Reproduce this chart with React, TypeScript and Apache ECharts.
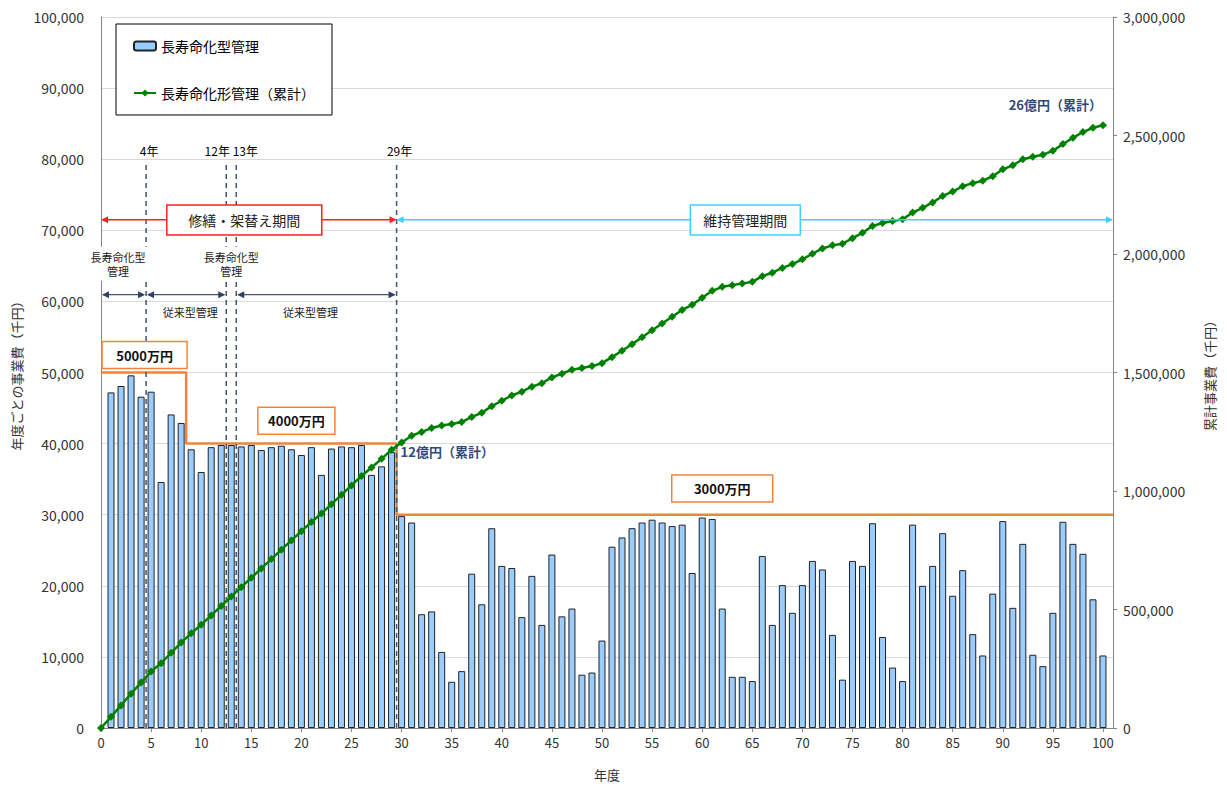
import React, { useEffect, useRef } from 'react';
import * as echarts from 'echarts';

// 年度ごとの事業費（千円）, years 1..100
const annualCost = [
  47200, 48100, 49600, 46600, 47300, 34600, 44100, 42900, 39200, 36000,
  39500, 39800, 39800, 39600, 39800, 39100, 39500, 39700, 39200, 38400,
  39500, 35600, 39300, 39600, 39500, 39800, 35600, 36800, 38800, 29800,
  28900, 16000, 16400, 10700, 6500, 8000, 21700, 17400, 28100, 22800,
  22500, 15600, 21400, 14500, 24400, 15700, 16800, 7500, 7800, 12300,
  25500, 26800, 28100, 28900, 29300, 28900, 28400, 28600, 21800, 29600,
  29400, 16800, 7200, 7200, 6600, 24200, 14500, 20100, 16200, 20100,
  23500, 22300, 13100, 6800, 23500, 22800, 28800, 12800, 8500, 6600,
  28600, 20000, 22800, 27400, 18600, 22200, 13200, 10200, 18900, 29100,
  16900, 25900, 10300, 8700, 16200, 29000, 25900, 24500, 18100, 10200,
];

// budget level step line (千円)
const budgetX = [0, 8.5, 8.5, 29.5, 29.5, 101];
const budgetY = [50000, 50000, 40000, 40000, 30000, 30000];
const budgetLabels = ['5000万円', '4000万円', '3000万円'];
const budgetLabelX = [4.35, 19.5, 62.0];
const budgetLabelY = [52450, 43200, 33700];

// period dividers
const dividerYears = [4.5, 12.5, 13.5, 29.5];
const dividerLabels = ['4年', '12年', '13年', '29年'];
const dividerLabelX = [4.8, 11.6, 14.4, 29.8];

// periods
const periodLabels = ['修繕・架替え期間', '維持管理期間'];
const periodFrom = [0, 29.5];
const periodTo = [29.5, 101];
const periodLabelX = [14.3, 64.3];

// management type segments
const segFrom = [0, 4.5, 13.5];
const segTo = [4.5, 12.5, 29.5];
const longLifeLabelX = [1.7, 13.0];
const conventionalLabelX = [8.9, 20.9];

const xTicks = { min: 0, max: 101, interval: 5 };
const leftTicks = { min: 0, max: 100000, interval: 10000 };
const rightTicks = { min: 0, max: 3000000, interval: 500000 };

const FONT = '"Noto Sans CJK JP", "Noto Sans", sans-serif';

export default function App() {
  const ref = useRef<HTMLDivElement>(null);
  useEffect(() => {
    if (!ref.current) return;
    const chart = echarts.init(ref.current, null, { renderer: 'svg' });

    const barData = annualCost.map((v, i) => [i + 1, v]);
    const cumData: number[][] = [[0, 0]];
    let s = 0;
    annualCost.forEach((v, i) => {
      s += v;
      cumData.push([i + 1, s]);
    });
    const stepData = budgetX.map((x, i) => [x, budgetY[i]]);

    const fmt = (v: number) => v.toLocaleString('en-US');

    chart.setOption({
      animation: false,
      textStyle: { fontFamily: FONT },
      grid: { left: 101, right: 114, top: 17, bottom: 57, containLabel: false },
      legend: {
        orient: 'vertical',
        left: 116,
        top: 24,
        data: ['長寿命化型管理', '長寿命化形管理（累計）'],
        backgroundColor: '#fff',
        borderColor: '#000',
        borderWidth: 1,
        borderRadius: 0,
        padding: [15, 17, 15, 17],
        itemGap: 33,
        itemWidth: 22,
        itemHeight: 9,
        textStyle: { fontSize: 14, color: '#000', fontFamily: FONT },
      },
      xAxis: {
        type: 'value',
        ...xTicks,
        name: '年度',
        nameLocation: 'middle',
        nameGap: 40,
        nameTextStyle: { fontSize: 13, color: '#333', fontFamily: FONT },
        axisLine: { show: true, lineStyle: { color: '#868686', width: 1 } },
        axisTick: { show: true, length: 4, lineStyle: { color: '#868686' } },
        axisLabel: { showMaxLabel: false, fontSize: 13, color: '#333', margin: 8 },
        splitLine: { show: false },
      },
      yAxis: [
        {
          type: 'value',
          ...leftTicks,
          position: 'left',
          name: '年度ごとの事業費（千円）',
          nameLocation: 'middle',
          nameGap: 78,
          nameTextStyle: { fontSize: 13, color: '#333', fontFamily: FONT },
          axisLine: { show: true, lineStyle: { color: '#868686' } },
          axisTick: { show: false },
          axisLabel: { formatter: fmt, fontSize: 14, color: '#333', margin: 17 },
          splitLine: { show: true, lineStyle: { color: '#d9d9d9', width: 1 } },
        },
        {
          type: 'value',
          ...rightTicks,
          position: 'right',
          name: '累計事業費（千円）',
          nameLocation: 'middle',
          nameGap: 90,
          nameTextStyle: { fontSize: 13, color: '#333', fontFamily: FONT },
          axisLine: { show: true, lineStyle: { color: '#868686' } },
          axisTick: { show: true, length: 4, lineStyle: { color: '#868686' } },
          axisLabel: { formatter: fmt, fontSize: 14, color: '#333', margin: 10 },
          splitLine: { show: false },
        },
      ],
      series: [
        {
          name: '長寿命化型管理',
          type: 'bar',
          data: barData,
          barWidth: 7,
          z: 2,
          itemStyle: { color: '#99ccff', borderColor: '#222', borderWidth: 1 },
        },
        {
          name: '長寿命化形管理（累計）',
          type: 'line',
          yAxisIndex: 1,
          data: cumData,
          z: 6,
          symbol: 'diamond',
          symbolSize: 8,
          lineStyle: { color: '#008000', width: 2.5 },
          itemStyle: { color: '#008000' },
        },
        {
          name: 'budget',
          type: 'line',
          data: stepData,
          z: 3,
          symbol: 'none',
          lineStyle: { color: '#f0843a', width: 2.5 },
          itemStyle: { color: '#f0843a' },
        },
      ],
    });

    const P = (x: number, y: number, yi = 0) =>
      chart.convertToPixel({ xAxisIndex: 0, yAxisIndex: yi } as any, [x, y]) as number[];

    const els: any[] = [];
    const line = (x1: number, y1: number, x2: number, y2: number, stroke: string, lw: number, dash?: number[], z = 5) =>
      els.push({ type: 'line', z, shape: { x1, y1, x2, y2 }, style: { stroke, lineWidth: lw, lineDash: dash } });
    const tri = (x: number, y: number, dir: number, fill: string, z = 5) =>
      els.push({ type: 'polygon', z, shape: { points: [[x, y], [x - dir * 7, y - 3.5], [x - dir * 7, y + 3.5]] }, style: { fill } });
    const text = (x: number, y: number, t: string, font: string, fill: string, align = 'center', z = 12, lh?: number) =>
      els.push({ type: 'text', z, x, y, style: { text: t, font, fill, align, verticalAlign: 'middle', lineHeight: lh } });
    const box = (cx: number, cy: number, w: number, h: number, stroke: string, z = 10, lw = 1.5) =>
      els.push({ type: 'rect', z, shape: { x: cx - w / 2, y: cy - h / 2, width: w, height: h }, style: { fill: '#fff', stroke, lineWidth: lw } });

    // dividers
    dividerYears.forEach((d, i) => {
      const a = P(d, 0);
      const b = P(d, 79500);
      line(a[0], a[1], b[0], b[1], '#44546a', 1.5, [5, 4], 5);
      const l = P(dividerLabelX[i], 81200);
      text(l[0], l[1], dividerLabels[i], `12px ${FONT}`, '#000');
    });

    // periods
    const periodColors = ['#ff2020', '#40d0ff'];
    const periodBoxW = [155, 110];
    periodLabels.forEach((lab, i) => {
      const a = P(periodFrom[i], 71500);
      const b = P(periodTo[i], 71500);
      line(a[0] + 2, a[1], b[0] - 2, b[1], periodColors[i], 1.5, undefined, 7);
      tri(a[0], a[1], -1, periodColors[i], 7);
      tri(b[0], b[1], 1, periodColors[i], 7);
      const c = P(periodLabelX[i], 71450);
      box(c[0], c[1], periodBoxW[i], 30, periodColors[i]);
      text(c[0], c[1], lab, `14px ${FONT}`, '#222');
    });

    // management type segments
    segFrom.forEach((f, i) => {
      const a = P(f, 60950);
      const b = P(segTo[i], 60950);
      line(a[0] + 2, a[1], b[0] - 2, b[1], '#44546a', 1.2, undefined, 7);
      tri(a[0] + 1, a[1], -1, '#2f3f66', 7);
      tri(b[0] - 1, b[1], 1, '#2f3f66', 7);
    });
    longLifeLabelX.forEach((x) => {
      const c = P(x, 65300);
      box(c[0], c[1], 62, 34, '#fff', 9, 0);
      text(c[0], c[1], '長寿命化型\n管理', `11px ${FONT}`, '#222', 'center', 12, 14);
    });
    conventionalLabelX.forEach((x) => {
      const c = P(x, 58570);
      text(c[0], c[1], '従来型管理', `11px ${FONT}`, '#222');
    });

    // budget labels
    const budgetBoxW = [85, 77, 101];
    budgetLabels.forEach((lab, i) => {
      const c = P(budgetLabelX[i], budgetLabelY[i]);
      box(c[0], c[1], budgetBoxW[i], 27, '#f0843a');
      text(c[0], c[1], lab, `bold 13px ${FONT}`, '#111');
    });

    // cumulative labels
    const c12 = P(29.9, 38900);
    text(c12[0], c12[1], '12億円（累計）', `bold 13px ${FONT}`, '#2f4a7a', 'left');
    const c26 = P(99.9, 2629000, 1);
    text(c26[0], c26[1], '26億円（累計）', `bold 13px ${FONT}`, '#2f4a7a', 'right');

    chart.setOption({ graphic: { elements: els } });

    return () => chart.dispose();
  }, []);

  return <div ref={ref} style={{ position: 'fixed', left: 0, top: 0, width: 1227, height: 786, background: '#fff' }} />;
}
